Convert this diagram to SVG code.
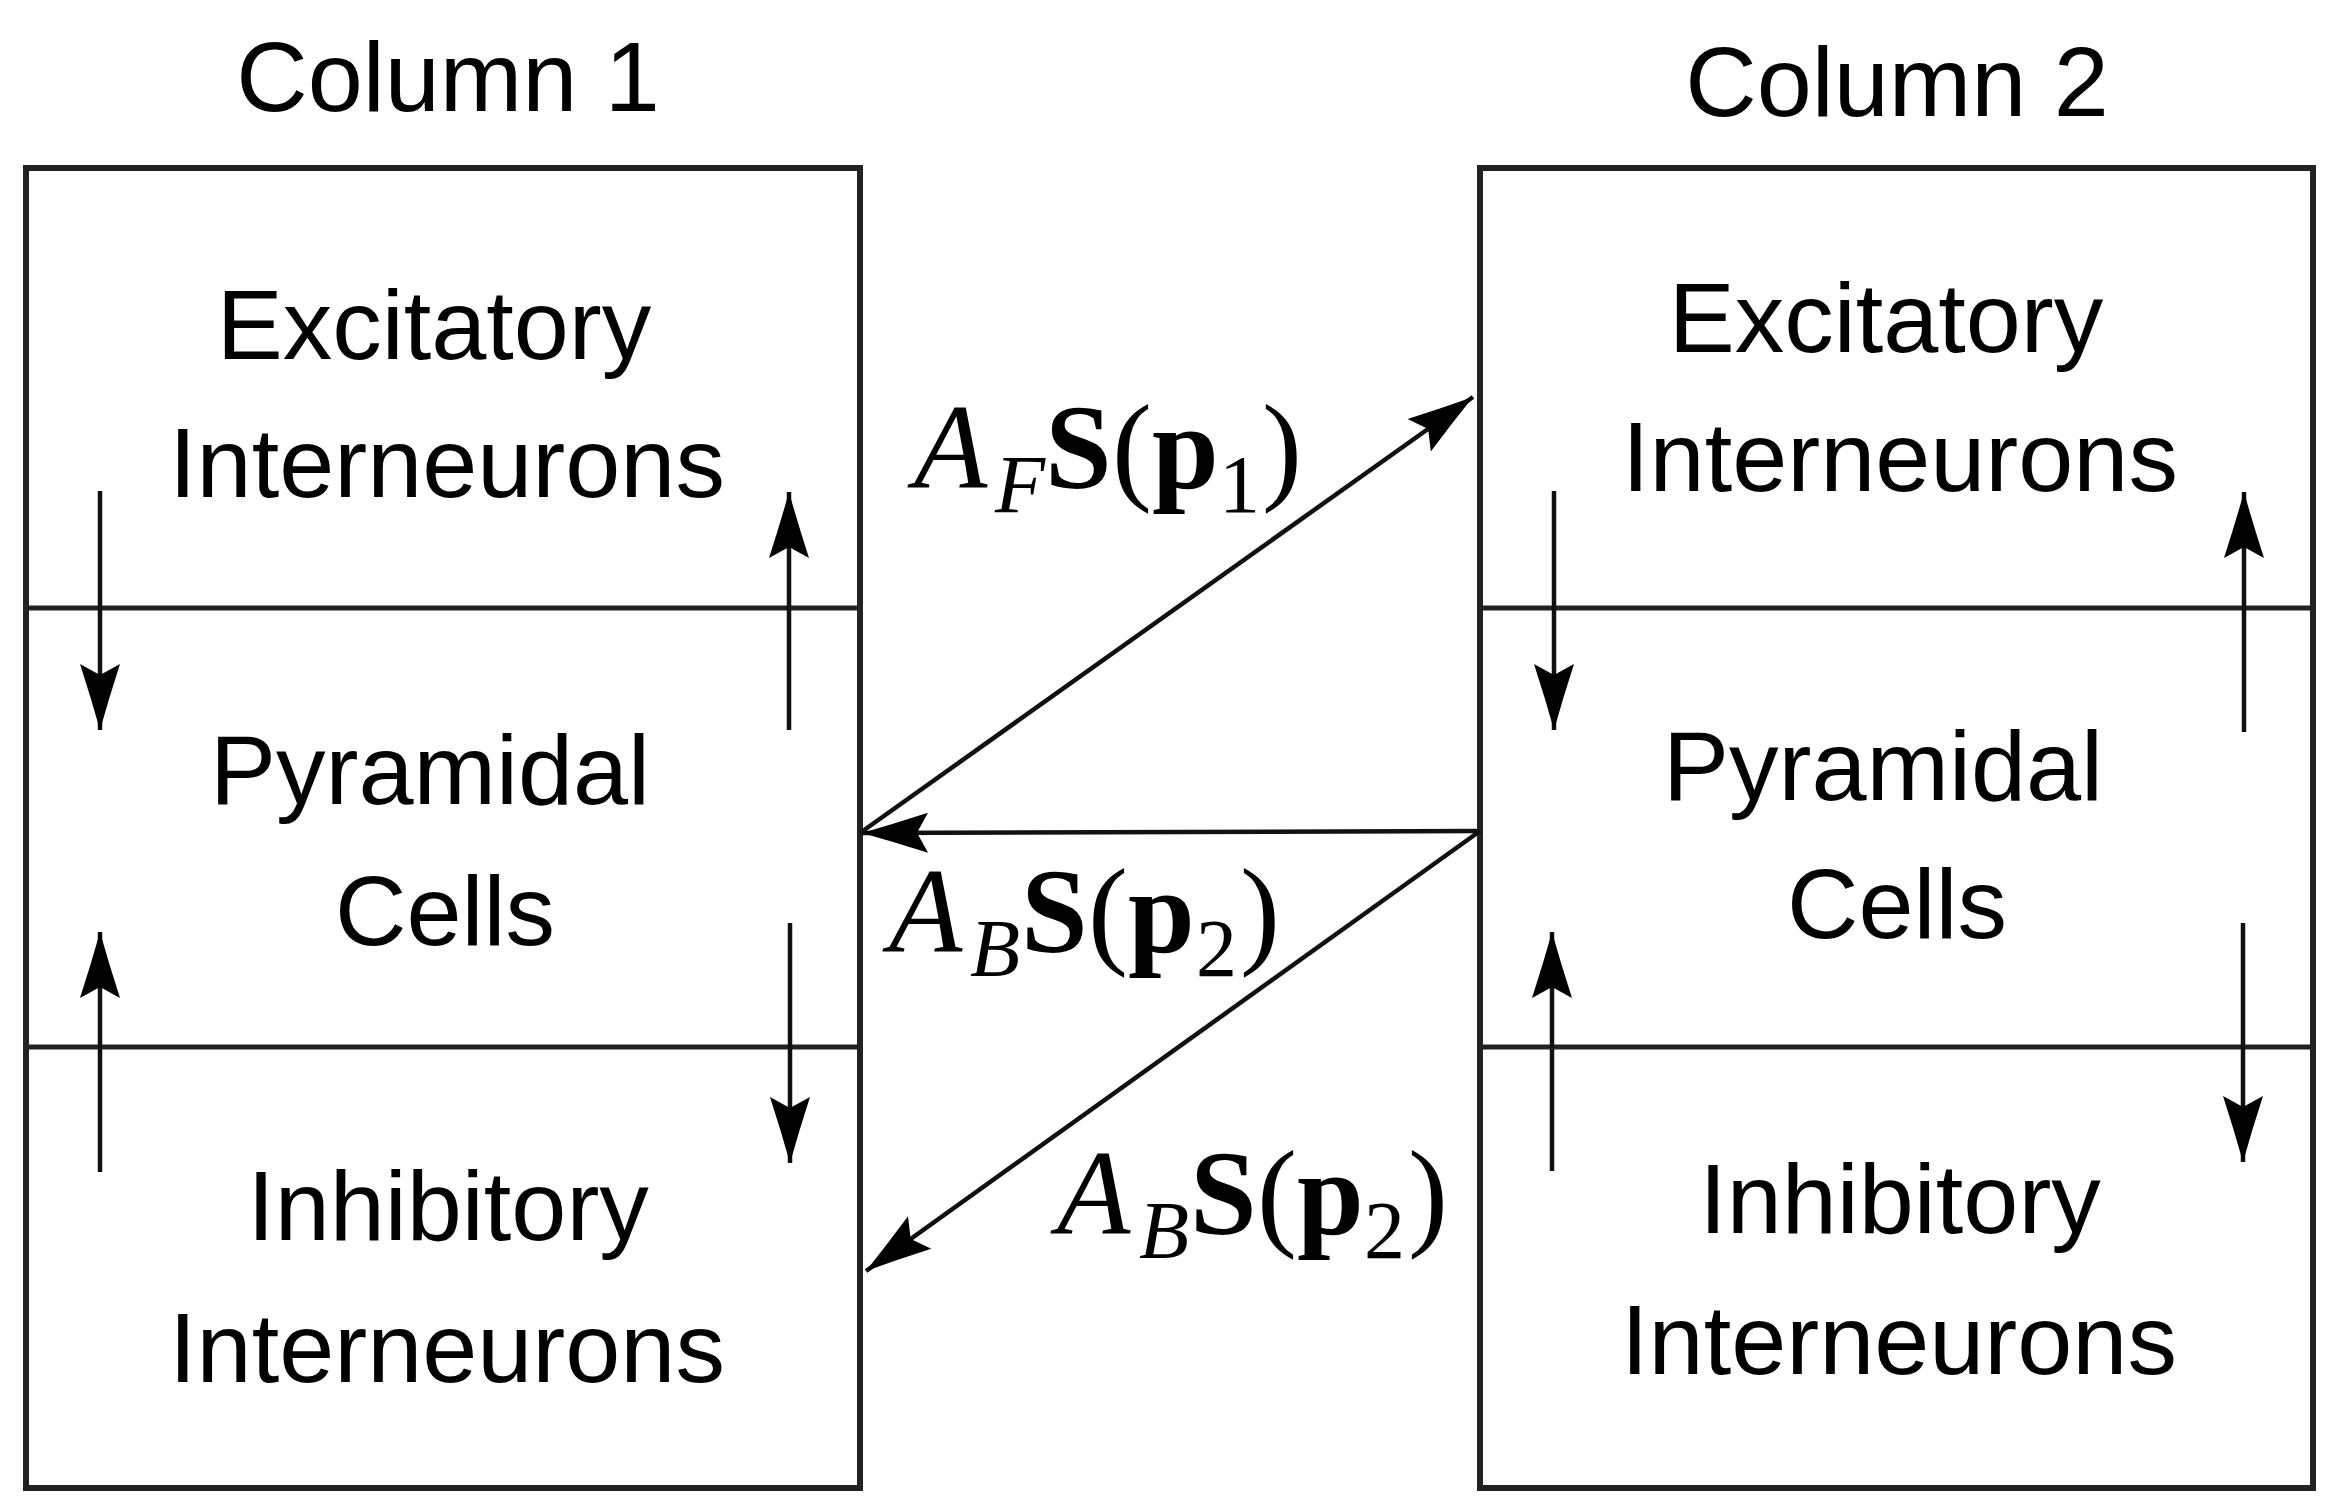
<svg xmlns="http://www.w3.org/2000/svg" width="2335" height="1510" viewBox="0 0 2335 1510">
<style>
.box{fill:none;stroke:#222;stroke-width:6}
.div{stroke:#222;stroke-width:5}
.arr{stroke:#111;stroke-width:4.5;fill:none}
.lbl{font-family:"Liberation Sans",Arial,sans-serif;font-size:99px;fill:#000;text-anchor:middle}
.m{font-family:"Liberation Serif","Times New Roman",serif;font-size:120px;fill:#000}
.it{font-style:italic}
.bd{font-weight:bold}
.sub{font-size:82px}
</style>
<defs>
<marker id="ah" markerUnits="userSpaceOnUse" markerWidth="80" markerHeight="50" viewBox="-70 -25 75 50" refX="0" refY="0" orient="auto">
<path d="M0,0 Q-32,-9 -66,-20 L-55,0 L-66,20 Q-32,9 0,0 Z" fill="#000"/>
</marker>
</defs>
<rect width="2335" height="1510" fill="#fff"/>

<g id="column1">
<text class="lbl" x="448" y="111">Column 1</text>
<rect class="box" x="26" y="168" width="834" height="1320"/>
<line class="div" x1="26" y1="608" x2="860" y2="608"/>
<line class="div" x1="26" y1="1047" x2="860" y2="1047"/>
</g>
<g id="c1-excitatory">
<text class="lbl" x="434" y="359">Excitatory</text>
<text class="lbl" x="447" y="497">Interneurons</text>
</g>
<g id="c1-pyramidal">
<text class="lbl" x="430" y="804">Pyramidal</text>
<text class="lbl" x="445" y="945">Cells</text>
</g>
<g id="c1-inhibitory">
<text class="lbl" x="448" y="1240">Inhibitory</text>
<text class="lbl" x="447" y="1382">Interneurons</text>
</g>

<g id="column2">
<text class="lbl" x="1897" y="116">Column 2</text>
<rect class="box" x="1480" y="168" width="833" height="1320"/>
<line class="div" x1="1480" y1="608" x2="2313" y2="608"/>
<line class="div" x1="1480" y1="1047" x2="2313" y2="1047"/>
</g>
<g id="c2-excitatory">
<text class="lbl" x="1886" y="352">Excitatory</text>
<text class="lbl" x="1900" y="491">Interneurons</text>
</g>
<g id="c2-pyramidal">
<text class="lbl" x="1883" y="800">Pyramidal</text>
<text class="lbl" x="1897" y="938">Cells</text>
</g>
<g id="c2-inhibitory">
<text class="lbl" x="1900" y="1233">Inhibitory</text>
<text class="lbl" x="1899" y="1374">Interneurons</text>
</g>

<g id="connectors">
<line class="arr" x1="100" y1="491" x2="100" y2="730" marker-end="url(#ah)"/>
<line class="arr" x1="789" y1="730" x2="789" y2="492" marker-end="url(#ah)"/>
<line class="arr" x1="100" y1="1172" x2="100" y2="932" marker-end="url(#ah)"/>
<line class="arr" x1="790" y1="923" x2="790" y2="1163" marker-end="url(#ah)"/>
<line class="arr" x1="1554" y1="491" x2="1554" y2="730" marker-end="url(#ah)"/>
<line class="arr" x1="2244" y1="732" x2="2244" y2="492" marker-end="url(#ah)"/>
<line class="arr" x1="1552" y1="1171" x2="1552" y2="932" marker-end="url(#ah)"/>
<line class="arr" x1="2243" y1="923" x2="2243" y2="1162" marker-end="url(#ah)"/>
<line class="arr" x1="860" y1="833" x2="1473" y2="397" marker-end="url(#ah)"/>
<line class="arr" x1="1480" y1="831" x2="862" y2="833" marker-end="url(#ah)"/>
<line class="arr" x1="1480" y1="831" x2="866" y2="1271" marker-end="url(#ah)"/>
</g>

<g id="label-forward">
<text class="m" y="488"><tspan class="it" x="914">A</tspan><tspan class="it sub" x="995" y="512">F</tspan><tspan class="bd" x="1045" y="488">S</tspan><tspan x="1112">(</tspan><tspan class="bd" x="1152">p</tspan><tspan class="sub" x="1219" y="512">1</tspan><tspan x="1262" y="488">)</tspan></text>
</g>
<g id="label-backward-1">
<text class="m" y="952"><tspan class="it" x="889">A</tspan><tspan class="it sub" x="970" y="976">B</tspan><tspan class="bd" x="1021" y="952">S</tspan><tspan x="1088">(</tspan><tspan class="bd" x="1128">p</tspan><tspan class="sub" x="1196" y="976">2</tspan><tspan x="1240" y="952">)</tspan></text>
</g>
<g id="label-backward-2">
<text class="m" y="1234"><tspan class="it" x="1057">A</tspan><tspan class="it sub" x="1139" y="1258">B</tspan><tspan class="bd" x="1190" y="1234">S</tspan><tspan x="1257">(</tspan><tspan class="bd" x="1297">p</tspan><tspan class="sub" x="1364" y="1258">2</tspan><tspan x="1408" y="1234">)</tspan></text>
</g>
</svg>
